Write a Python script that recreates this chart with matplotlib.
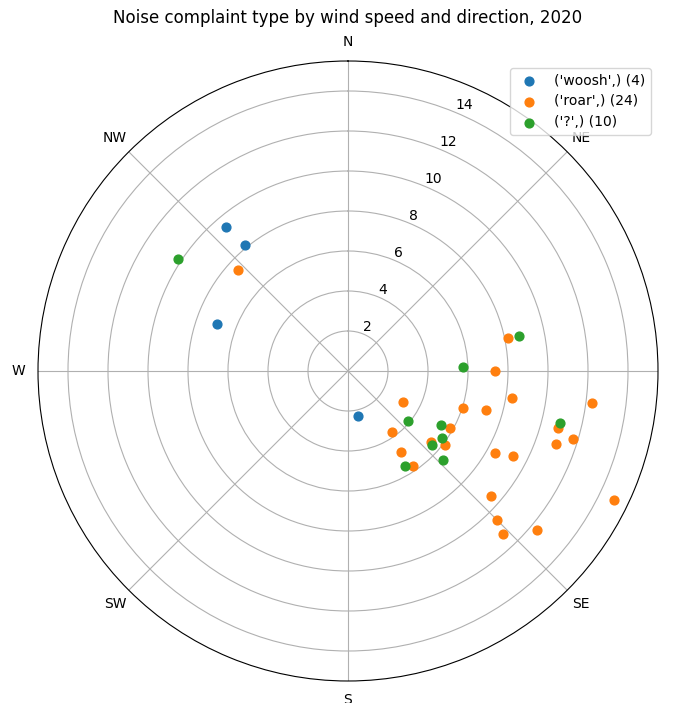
import numpy as np
import matplotlib
matplotlib.use("Agg")
import matplotlib.pyplot as plt

# compass direction (degrees, clockwise from N) and wind speed
woosh_dir = [319.7, 320.8, 289.8, 167.4]
woosh_speed = [9.46, 8.11, 6.94, 2.29]

roar_dir = [78.45, 89.9, 119.4, 99.3, 108.0, 105.9, 144.5, 119.1, 130.6, 127.1,
            146.9, 145.7, 119.1, 117.1, 97.5, 105.3, 106.9, 109.4, 131.2, 115.9,
            135.0, 136.4, 130.1, 312.5]
roar_speed = [8.17, 7.34, 3.16, 8.33, 6.04, 7.19, 3.76, 5.86, 5.45, 6.11,
              4.82, 5.75, 8.40, 9.29, 12.29, 10.87, 11.78, 11.01, 9.49, 14.78,
              10.54, 11.25, 12.35, 7.46]

q_dir = [78.4, 88.2, 129.4, 120.1, 125.4, 131.5, 133.1, 149.2, 103.7, 303.3]
q_speed = [8.71, 5.75, 3.91, 5.38, 5.79, 5.61, 6.51, 5.53, 10.9, 10.17]

series = [("('woosh',)", woosh_dir, woosh_speed),
          ("('roar',)", roar_dir, roar_speed),
          ("('?',)", q_dir, q_speed)]

compass_labels = ['N', 'NE', 'E', 'SE', 'S', 'SW', 'W', 'NW']
title = "Noise complaint type by wind speed and direction, 2020"

fig = plt.figure(figsize=(6.73, 7.03), dpi=100)
ax = fig.add_axes([38/673, 22/703, 620/673, 620/703], projection='polar')
ax.set_theta_zero_location('N')
ax.set_theta_direction(-1)

for name, d, s in series:
    ax.scatter(np.deg2rad(d), s, label=f"{name} ({len(s)})", s=40, zorder=3)

ax.set_xticks(np.deg2rad(np.arange(0, 360, 45)))
ax.set_xticklabels(compass_labels)
ax.set_rmax(15.5)
ax.set_rmin(0)
ax.set_rticks([2, 4, 6, 8, 10, 12, 14])
ax.set_rlabel_position(22.5)
ax.grid(True)
ax.legend(loc='upper right')
fig.text(348/673, 1 - 18/703, title, ha='center', va='center', fontsize=12)

fig.savefig("out.png", dpi=100)
